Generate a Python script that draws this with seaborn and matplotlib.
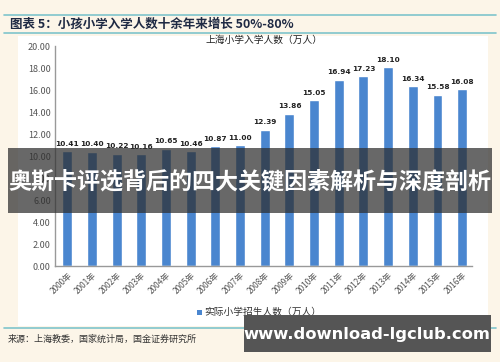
import matplotlib
matplotlib.use('Agg')
import matplotlib.pyplot as plt
import seaborn as sns
import pandas as pd
from matplotlib.patches import Rectangle

years = ['2000年', '2001年', '2002年', '2003年', '2004年', '2005年', '2006年', '2007年', '2008年',
         '2009年', '2010年', '2011年', '2012年', '2013年', '2014年', '2015年', '2016年']
enrolment = [10.41, 10.40, 10.22, 10.16, 10.65, 10.46, 10.87, 11.00, 12.39,
             13.86, 15.05, 16.94, 17.23, 18.10, 16.34, 15.58, 16.08]
y_ticks = [0, 2, 4, 6, 8, 10, 12, 14, 16, 18, 20]

chart_title = '上海小学入学人数（万人）'
legend_label = '实际小学招生人数（万人）'
header = '图表 5：小孩小学入学人数十余年来增长 50%-80%'
source = '来源：上海教委，国家统计局，国金证券研究所'
banner = '奥斯卡评选背后的四大关键因素解析与深度剖析'
watermark = 'www.download-lgclub.com'

sns.set_theme(style='white')
plt.rcParams['font.family'] = ['Noto Sans CJK SC', 'DejaVu Sans']

W, H = 500, 362
fig = plt.figure(figsize=(W / 100, H / 100), dpi=100, facecolor='#fcf5e8')


def fx(x):
    return x / W


def fy(y):
    return 1 - y / H


# white panel behind the chart
fig.patches.append(Rectangle((fx(18), fy(326)), fx(470), 290 / H, transform=fig.transFigure,
                             facecolor='white', edgecolor='none', zorder=-5))

ax = fig.add_axes([fx(55), fy(266), fx(417), 220 / H])
ax.set_zorder(1)
df = pd.DataFrame({'year': years, 'value': enrolment})
sns.barplot(data=df, x='year', y='value', color='#4a86cf', width=0.4, saturation=1, ax=ax)

ax.set_ylim(0, 20)
ax.set_xlim(-0.5, 16.4)
ax.set_yticks(y_ticks)
ax.set_yticklabels([f'{v:.2f}' for v in y_ticks], fontsize=6.5, color='#555555')
ax.set_xticks(range(len(years)))
ax.set_xticklabels(years, rotation=45, ha='right', rotation_mode='anchor', fontsize=6, color='#555555')
ax.tick_params(axis='both', length=0, pad=3)
ax.set_xlabel('')
ax.set_ylabel('')
for side in ['top', 'right']:
    ax.spines[side].set_visible(False)
for side in ['left', 'bottom']:
    ax.spines[side].set_color('#999999')
    ax.spines[side].set_linewidth(1)
ax.set_facecolor('white')

for i, v in enumerate(enrolment):
    ax.text(i, v + 0.4, f'{v:.2f}', ha='center', va='bottom', fontsize=5.3,
            fontweight='bold', color='#222222', family=['DejaVu Sans'])

ax.set_title(chart_title, fontsize=7, color='#222222', pad=2)

# legend below
fig.patches.append(Rectangle((fx(197), fy(315)), fx(5), 5 / H, transform=fig.transFigure,
                             facecolor='#4a86cf', edgecolor='none'))
fig.text(fx(204), fy(312), legend_label, fontsize=7, color='#333333', va='center')

# header and footer
for yy in [15, 33, 328]:
    fig.add_artist(plt.Line2D([fx(4), fx(496)], [fy(yy), fy(yy)], transform=fig.transFigure,
                              color='#7fc4cc', linewidth=1.2))
fig.text(fx(10), fy(24), header, fontsize=9, fontweight='bold', color='#1f2a44', va='center')
fig.text(fx(8), fy(339), source, fontsize=6.5, color='#333333', va='center')

# overlay banner
banner_box = Rectangle((fx(8), fy(213)), fx(484), 65 / H, transform=fig.transFigure,
                       facecolor='#2e2e2e', alpha=0.72, edgecolor='none', zorder=5)
fig.add_artist(banner_box)
fig.text(0.5, fy(182), banner, fontsize=16.6, fontweight='bold', color='white',
         ha='center', va='center', zorder=6)

# watermark box
wm_box = Rectangle((fx(244), fy(352)), fx(247), 37 / H, transform=fig.transFigure,
                   facecolor='#555555', edgecolor='none', zorder=5)
fig.add_artist(wm_box)
fig.text(fx(367), fy(334), watermark, fontsize=11.8, fontweight='bold', color='white',
         ha='center', va='center', zorder=6, family=['DejaVu Sans'])

fig.savefig('out.png', dpi=100, facecolor=fig.get_facecolor())
